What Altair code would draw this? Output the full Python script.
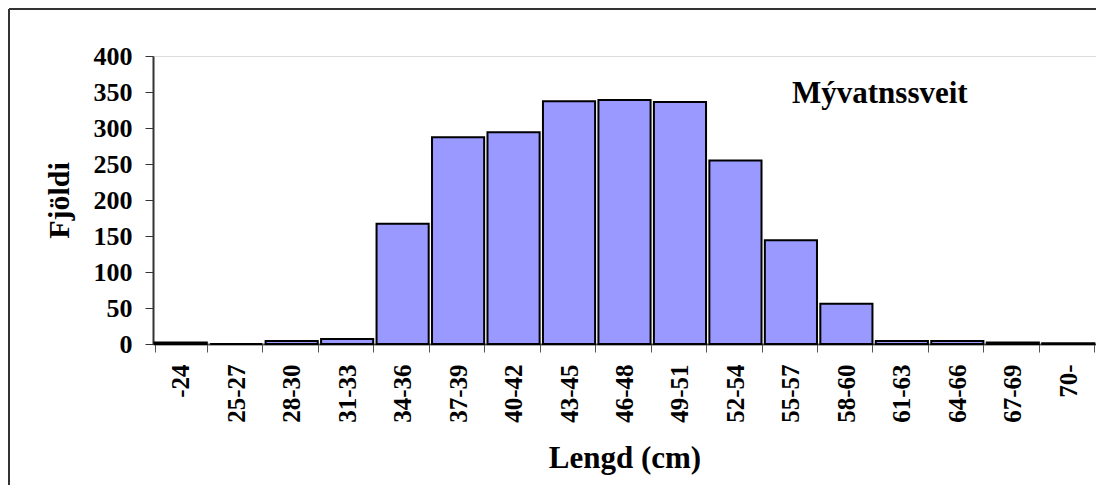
import altair as alt
import pandas as pd

categories = ["-24", "25-27", "28-30", "31-33", "34-36", "37-39", "40-42", "43-45",
              "46-48", "49-51", "52-54", "55-57", "58-60", "61-63", "64-66", "67-69", "70-"]
counts = [2, 0, 4, 7, 167, 287, 294, 337, 339, 336, 255, 144, 56, 4, 4, 2, 1]
y_ticks = [0, 50, 100, 150, 200, 250, 300, 350, 400]
annotation = ["Mývatnssveit"]

FONT = "Liberation Serif"
W, H = 943, 288

df = pd.DataFrame({"lengd": categories, "fjoldi": counts})

bars = alt.Chart(df).mark_bar(
    color="#9999FF", stroke="#000000", strokeWidth=2
).encode(
    x=alt.X("lengd:N", sort=categories,
            scale=alt.Scale(paddingInner=0.06, paddingOuter=0.03),
            axis=alt.Axis(title="Lengd (cm)", labelAngle=270, labelAlign="right",
                          labelBaseline="middle", labelFont=FONT, labelFontSize=25,
                          labelFontWeight="bold", labelColor="#000", labelPadding=12,
                          tickBand="extent", tickSize=8, tickColor="#555",
                          domainColor="#555", domainWidth=2,
                          titleFont=FONT, titleFontSize=31, titleFontWeight="bold",
                          titleColor="#000", titleX=W / 2, titleY=123,
                          titleBaseline="alphabetic", titleAlign="center")),
    y=alt.Y("fjoldi:Q", scale=alt.Scale(domain=[0, 400], nice=False),
            axis=alt.Axis(title="Fjöldi", values=y_ticks, grid=False,
                          labelFont=FONT, labelFontSize=26, labelFontWeight="bold",
                          labelColor="#000", labelPadding=13, tickSize=8,
                          tickColor="#333", domainColor="#333", domainWidth=2,
                          titleFont=FONT, titleFontSize=30, titleFontWeight="bold",
                          titleColor="#000", titleAngle=270, titleX=-85, titleY=H / 2,
                          titleBaseline="alphabetic", titleAlign="center")),
)

label = alt.Chart(pd.DataFrame({"t": annotation})).mark_text(
    font=FONT, fontSize=31, fontWeight="bold", align="left", baseline="alphabetic",
    color="#000"
).encode(x=alt.value(639), y=alt.value(47), text="t:N")

top_border = alt.Chart(pd.DataFrame({"a": [0]})).mark_rule(
    color="#333", strokeWidth=2
).encode(x=alt.value(-144), x2=alt.value(W + 10), y=alt.value(-47))

left_border = alt.Chart(pd.DataFrame({"a": [0]})).mark_rule(
    color="#333", strokeWidth=2
).encode(x=alt.value(-144), y=alt.value(-47), y2=alt.value(H + 150))

chart = alt.layer(bars, label, top_border, left_border).properties(
    width=W, height=H,
    autosize=alt.AutoSizeParams(type="none"),
    padding={"left": 145, "top": 48, "right": 0, "bottom": 141},
).configure_view(stroke="#808080", strokeWidth=2).configure(background="white")

chart.save("out.html", embed_options={"renderer": "svg", "actions": False})
